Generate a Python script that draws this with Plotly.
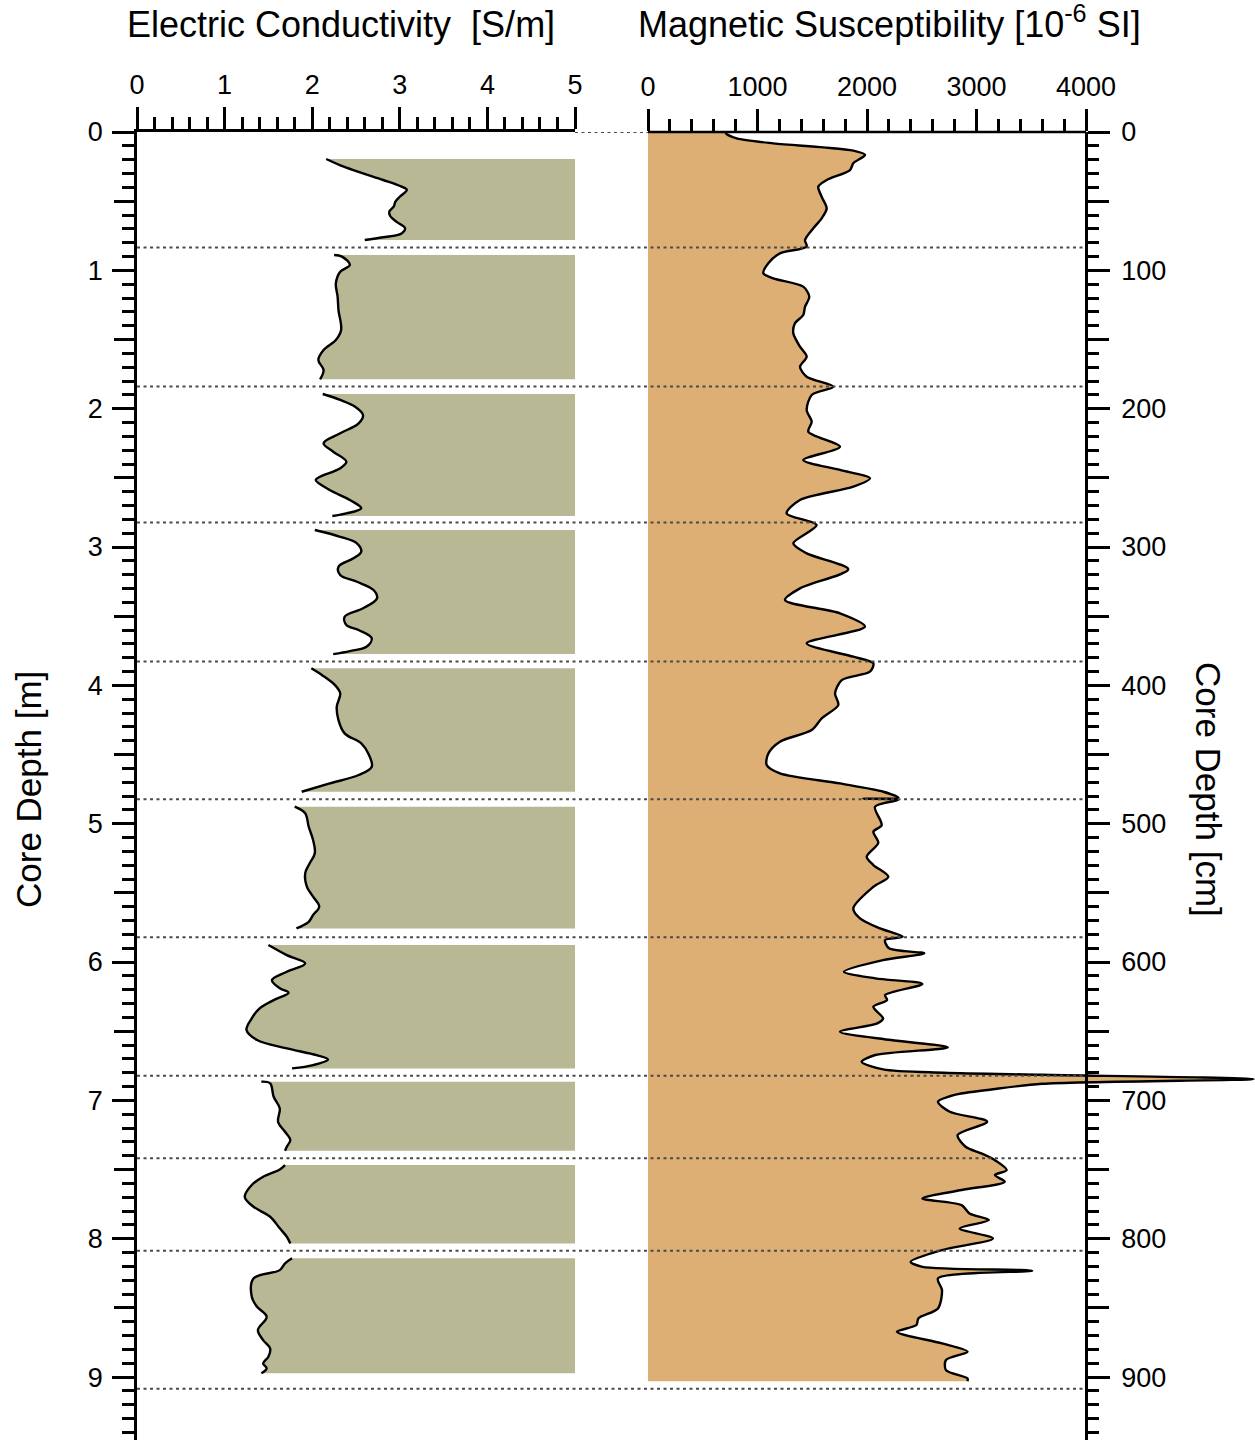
import plotly.graph_objects as go

# ---------------- data ----------------
# Electric conductivity [S/m], one list per core section, depth in m
cond_depths = [
    [0.195, 0.251, 0.299, 0.347, 0.395, 0.419, 0.468, 0.504, 0.540, 0.576, 0.607, 0.648, 0.696, 0.733, 0.761, 0.781],
    [0.889, 0.901, 0.961, 1.010, 1.094, 1.190, 1.287, 1.431, 1.504, 1.576, 1.648, 1.721, 1.788],
    [1.894, 1.937, 1.986, 2.046, 2.106, 2.178, 2.250, 2.311, 2.383, 2.431, 2.492, 2.516, 2.588, 2.660, 2.720, 2.757, 2.776],
    [2.877, 2.926, 2.973, 3.034, 3.082, 3.142, 3.202, 3.251, 3.311, 3.371, 3.443, 3.504, 3.564, 3.600, 3.660, 3.721, 3.752, 3.774],
    [3.877, 3.925, 3.998, 4.058, 4.155, 4.251, 4.347, 4.419, 4.492, 4.588, 4.648, 4.709, 4.769],
    [4.877, 4.925, 5.022, 5.118, 5.214, 5.287, 5.359, 5.456, 5.528, 5.600, 5.660, 5.709, 5.757],
    [5.877, 5.950, 6.010, 6.070, 6.130, 6.190, 6.222, 6.275, 6.335, 6.407, 6.492, 6.564, 6.624, 6.673, 6.704, 6.745, 6.769],
    [6.865, 6.877, 6.974, 7.058, 7.154, 7.227, 7.287, 7.335, 7.364],
    [7.468, 7.499, 7.552, 7.612, 7.697, 7.769, 7.841, 7.925, 7.986, 8.034],
    [8.142, 8.179, 8.227, 8.287, 8.420, 8.492, 8.564, 8.660, 8.733, 8.793, 8.853, 8.901, 8.937, 8.973],
]
cond_values = [
    [2.16, 2.36, 2.58, 2.81, 3.02, 3.08, 3.00, 2.95, 2.93, 2.88, 2.89, 2.96, 3.06, 3.02, 2.81, 2.60],
    [2.25, 2.34, 2.43, 2.32, 2.27, 2.29, 2.30, 2.33, 2.27, 2.13, 2.07, 2.13, 2.09],
    [2.12, 2.32, 2.49, 2.58, 2.53, 2.32, 2.13, 2.24, 2.39, 2.32, 2.09, 2.04, 2.20, 2.43, 2.56, 2.39, 2.23],
    [2.03, 2.32, 2.51, 2.56, 2.47, 2.30, 2.32, 2.51, 2.70, 2.74, 2.58, 2.37, 2.39, 2.53, 2.68, 2.62, 2.43, 2.24],
    [1.99, 2.11, 2.26, 2.32, 2.28, 2.30, 2.37, 2.56, 2.64, 2.68, 2.53, 2.20, 1.88],
    [1.80, 1.92, 1.96, 2.01, 2.03, 1.97, 1.92, 1.94, 2.01, 2.08, 2.01, 1.96, 1.82],
    [1.50, 1.71, 1.92, 1.71, 1.54, 1.63, 1.73, 1.56, 1.40, 1.31, 1.25, 1.37, 1.71, 2.05, 2.18, 2.01, 1.77],
    [1.42, 1.52, 1.56, 1.63, 1.61, 1.69, 1.75, 1.71, 1.69],
    [1.69, 1.63, 1.44, 1.31, 1.23, 1.33, 1.52, 1.63, 1.71, 1.75],
    [1.77, 1.69, 1.63, 1.33, 1.31, 1.37, 1.48, 1.38, 1.44, 1.52, 1.50, 1.44, 1.48, 1.42],
]

# Magnetic susceptibility [1e-6 SI], depth in m
ms_depth = [0.0, 0.010, 0.046, 0.082, 0.111, 0.135, 0.166, 0.226, 0.275, 0.347, 0.395, 0.468, 0.552, 0.624,
            0.696, 0.781, 0.829, 0.877, 0.949, 1.021, 1.058, 1.118, 1.191, 1.263, 1.323, 1.383, 1.455, 1.552,
            1.624, 1.697, 1.769, 1.841, 1.901, 2.010, 2.094, 2.167, 2.275, 2.371, 2.443, 2.503, 2.564, 2.660,
            2.757, 2.841, 2.973, 3.046, 3.161, 3.299, 3.383, 3.479, 3.576, 3.696, 3.793, 3.841, 3.901, 3.962,
            4.058, 4.142, 4.239, 4.323, 4.407, 4.492, 4.576, 4.636, 4.709, 4.769, 4.812, 4.820, 4.828, 4.877,
            5.010, 5.058, 5.138, 5.239, 5.299, 5.383, 5.456, 5.612, 5.684, 5.757, 5.817, 5.841, 5.901, 5.937,
            5.986, 6.070, 6.118, 6.159, 6.239, 6.275, 6.323, 6.407, 6.443, 6.504, 6.564, 6.617, 6.672, 6.721,
            6.776, 6.800, 6.815, 6.846, 6.880, 6.920, 6.962, 7.010, 7.082, 7.154, 7.251, 7.335, 7.383, 7.432,
            7.504, 7.540, 7.588, 7.648, 7.709, 7.757, 7.817, 7.865, 7.926, 7.998, 8.082, 8.167, 8.203, 8.232,
            8.287, 8.371, 8.504, 8.576, 8.624, 8.673, 8.757, 8.817, 8.877, 8.950, 9.010, 9.030]
ms_value = [720, 712, 810, 1144, 1601, 1875, 1982, 1875, 1845, 1632, 1555, 1586, 1632, 1586,
            1510, 1434, 1449, 1205, 1099, 1053, 1144, 1418, 1473, 1434, 1418, 1342, 1327, 1388,
            1449, 1388, 1449, 1692, 1495, 1449, 1495, 1464, 1753, 1418, 1753, 2027, 1875, 1388,
            1266, 1540, 1327, 1449, 1829, 1388, 1251, 1753, 1982, 1449, 1875, 2058, 2027, 1769,
            1708, 1738, 1586, 1495, 1205, 1099, 1084, 1205, 1753, 2149, 2286, 1966, 2286, 2073,
            2134, 2058, 2103, 1997, 2058, 2195, 2058, 1875, 1936, 2119, 2326, 2165, 2201, 2523,
            2147, 1789, 2076, 2506, 2165, 2183, 2058, 2147, 2094, 1753, 2219, 2738, 2076, 1951,
            2147, 2700, 3600, 5532, 3600, 3150, 2792, 2648, 2756, 3097, 2827, 2900, 3043, 3168,
            3276, 3168, 3258, 2864, 2506, 2864, 2935, 3114, 2846, 3150, 2685, 2398, 2506, 3509,
            2648, 2685, 2648, 2469, 2452, 2273, 2685, 2918, 2721, 2721, 2918, 2918]

section_boundaries = [0.0, 0.835, 1.840, 2.823, 3.828, 4.824, 5.820, 6.822, 7.418, 8.087, 9.085]

cond_ticks = [0, 1, 2, 3, 4, 5]
ms_ticks = [0, 1000, 2000, 3000, 4000]
depth_m_labels = list(range(0, 10))
depth_cm_labels = list(range(0, 1000, 100))

# ---------------- layout constants ----------------
W, H = 1255, 1442
ML, MR, MT, MB = 137, 0, 132, 2
PW = W - ML - MR
PH = H - MT - MB
DEPTH_MAX = 9.455
COND_MAX = 5
MS_AXIS_MAX = 4000
left_dom = [0, 438 / PW]
right_dom = [511 / PW, 1.0]
ms_range_max = MS_AXIS_MAX * (W - MR - ML - right_dom[0] * PW) / 438.0
right_axis_pos = right_dom[0] + (438 / PW)

FONT = "Liberation Sans, Arial, Helvetica, sans-serif"
COND_FILL = "#B8B894"
MS_FILL = "#DDAF75"
AX_W = 2.5
CURVE_W = 2.4

fig = go.Figure()

for d, v in zip(cond_depths, cond_values):
    fig.add_trace(go.Scatter(
        x=[COND_MAX, COND_MAX], y=[d[0], d[-1]], mode="lines",
        line=dict(width=0, color="rgba(0,0,0,0)"), xaxis="x", yaxis="y",
        showlegend=False, hoverinfo="skip"))
    fig.add_trace(go.Scatter(
        x=v, y=d, mode="lines", fill="tonextx", fillcolor=COND_FILL,
        line=dict(color="black", width=CURVE_W, shape="spline", smoothing=1.0),
        xaxis="x", yaxis="y", showlegend=False, hoverinfo="skip"))

fig.add_trace(go.Scatter(
    x=ms_value, y=ms_depth, mode="lines", fill="tozerox", fillcolor=MS_FILL,
    line=dict(color="black", width=CURVE_W, shape="spline", smoothing=0.8),
    xaxis="x2", yaxis="y", showlegend=False, hoverinfo="skip"))

# helper traces so that the extra tick axes are drawn
for ya in ("y2", "y3", "y4"):
    fig.add_trace(go.Scatter(x=[0], y=[0], mode="markers", marker=dict(opacity=0),
                             xaxis="x2", yaxis=ya, showlegend=False, hoverinfo="skip"))

# dotted section boundaries
for i, b in enumerate(section_boundaries):
    x0, x1 = (left_dom[1], right_dom[0]) if i == 0 else (0, right_axis_pos)
    fig.add_shape(type="line", xref="paper", yref="y", x0=x0, x1=x1, y0=b, y1=b,
                  line=dict(color="#4a4a4a", width=2, dash="3px,3.5px"), layer="above")

# top axis line of the MS panel (only up to 4000)
fig.add_shape(type="line", xref="x2", yref="paper", x0=0, x1=MS_AXIS_MAX, y0=1, y1=1,
              line=dict(color="black", width=AX_W), layer="above")

tickfont = dict(family=FONT, size=27, color="black")

half_m = [i * 0.5 + 0.5 for i in range(0, 19, 2)]          # 0.5, 1.5, ... 9.5
minor_m = [round(i * 0.1, 2) for i in range(0, 95) if i % 5 != 0]
half_cm = [i * 100 + 50 for i in range(0, 9)]              # 50, 150, ... 850
minor_cm = [i * 10 for i in range(0, 95) if i % 5 != 0]

common_tick = dict(ticks="outside", tickwidth=AX_W, tickcolor="black",
                   showgrid=False, zeroline=False, fixedrange=True, automargin=False)

fig.update_layout(
    width=W, height=H, autosize=False,
    margin=dict(l=ML, r=MR, t=MT, b=MB, pad=0, autoexpand=False),
    paper_bgcolor="white", plot_bgcolor="rgba(0,0,0,0)",
    font=dict(family=FONT, color="black"), showlegend=False,
    xaxis=dict(domain=left_dom, range=[0, COND_MAX], side="top", anchor="y",
               showline=True, linecolor="black", linewidth=AX_W, ticklen=22,
               tickmode="array", tickvals=cond_ticks, ticktext=[str(t) for t in cond_ticks],
               tickfont=tickfont, ticklabelstandoff=2,
               minor=dict(ticks="outside", ticklen=12, tickwidth=AX_W, tickcolor="black",
                          tickmode="array", tickvals=[round(i * 0.2, 1) for i in range(1, 25) if i % 5 != 0]),
               **common_tick),
    xaxis2=dict(domain=right_dom, range=[0, ms_range_max], side="top", anchor="y",
                showline=False, ticklen=22,
                tickmode="array", tickvals=ms_ticks, ticktext=[str(t) for t in ms_ticks],
                tickfont=tickfont, ticklabelstandoff=2,
                minor=dict(ticks="outside", ticklen=12, tickwidth=AX_W, tickcolor="black",
                           tickmode="array", tickvals=[i * 200 for i in range(1, 20) if i % 5 != 0]),
                **common_tick),
    yaxis=dict(domain=[0, 1], range=[DEPTH_MAX, 0], anchor="x", side="left",
               showline=True, linecolor="black", linewidth=AX_W, ticklen=22,
               tickmode="array", tickvals=depth_m_labels, ticktext=[str(t) for t in depth_m_labels],
               tickfont=tickfont, ticklabelstandoff=4,
               minor=dict(ticks="outside", ticklen=12, tickwidth=AX_W, tickcolor="black",
                          tickmode="array", tickvals=minor_m),
               **common_tick),
    yaxis3=dict(range=[DEPTH_MAX, 0], overlaying="y", anchor="x", side="left",
                showline=False, ticklen=22, tickmode="array", tickvals=half_m,
                showticklabels=False, **common_tick),
    yaxis2=dict(range=[DEPTH_MAX * 100, 0], overlaying="y", side="right", anchor="free",
                position=right_axis_pos, autoshift=False,
                showline=True, linecolor="black", linewidth=AX_W, ticklen=22,
                tickmode="array", tickvals=depth_cm_labels,
                ticktext=[str(v) for v in depth_cm_labels],
                tickfont=tickfont, ticklabelstandoff=6,
                minor=dict(ticks="outside", ticklen=11, tickwidth=AX_W, tickcolor="black",
                           tickmode="array", tickvals=minor_cm),
                **common_tick),
    yaxis4=dict(range=[DEPTH_MAX * 100, 0], overlaying="y", side="right", anchor="free",
                position=right_axis_pos, autoshift=False, showline=False, ticklen=22,
                tickmode="array", tickvals=half_cm, showticklabels=False,
                **common_tick),
)

def px_x(x):
    return (x - ML) / PW

def px_y(y):
    return (H - MB - y) / PH

TITLE_SIZE = 36
fig.add_annotation(text="Electric Conductivity\u00a0\u00a0[S/m]", xref="paper", yref="paper",
                   x=px_x(341), y=px_y(24), showarrow=False, xanchor="center", yanchor="middle",
                   font=dict(family=FONT, size=TITLE_SIZE, color="black"))
fig.add_annotation(text="Magnetic Susceptibility [10<sup>-6</sup> SI]", xref="paper", yref="paper",
                   x=px_x(889), y=px_y(22), showarrow=False, xanchor="center", yanchor="middle",
                   font=dict(family=FONT, size=TITLE_SIZE, color="black"))
fig.add_annotation(text="Core Depth [m]", xref="paper", yref="paper",
                   x=px_x(28), y=px_y(790), showarrow=False, textangle=-90,
                   xanchor="center", yanchor="middle",
                   font=dict(family=FONT, size=35, color="black"))
fig.add_annotation(text="Core Depth [cm]", xref="paper", yref="paper",
                   x=px_x(1208), y=px_y(789), showarrow=False, textangle=90,
                   xanchor="center", yanchor="middle",
                   font=dict(family=FONT, size=35, color="black"))

fig.write_html("out.html", config=dict(displayModeBar=False, responsive=False))
